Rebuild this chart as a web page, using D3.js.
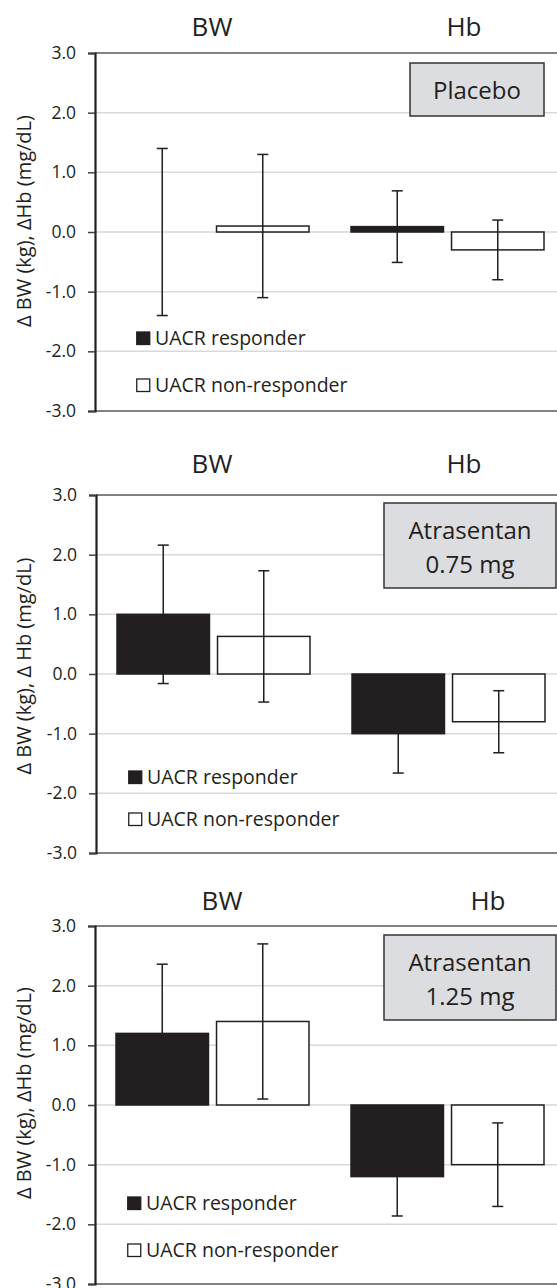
<!DOCTYPE html>
<html>
<head>
<meta charset="utf-8">
<script src="https://cdn.jsdelivr.net/npm/d3@7"></script>
<style>
  body { margin: 0; background: #fff; }
  svg { display: block; font-family: "Open Sans", sans-serif; }
</style>
</head>
<body>
<div id="chart"></div>
<script>
(function(){
  // data
  const categories = ["BW", "Hb"];
  const groups = ["UACR responder", "UACR non-responder"];
  const boxLines = [["Placebo"], ["Atrasentan", "0.75 mg"], ["Atrasentan", "1.25 mg"]];
  const yLabels = ["Δ BW (kg), ΔHb (mg/dL)", "Δ BW (kg), Δ Hb (mg/dL)", "Δ BW (kg), ΔHb (mg/dL)"];
  const yTicks = [-3, -2, -1, 0, 1, 2, 3];

  // [panel][category]  BW, Hb
  const responderMean = [[0.0, 0.09], [1.0, -1.0], [1.2, -1.2]];
  const responderErr = [[1.4, 0.6], [1.16, 0.66], [1.16, 0.66]];
  const nonResponderMean = [[0.1, -0.3], [0.63, -0.8], [1.4, -1.0]];
  const nonResponderErr = [[1.2, 0.5], [1.1, 0.52], [1.3, 0.7]];

  const dark = "#231f20";
  const width = 557, height = 1288;

  // per panel layout
  const layout = [
    { top: 53, axisX: 95, titleY: 36, bwX: 212, hbX: 464, box: [410, 10, 134, 53], legX: 136, leg: [345, 392], labY: 221 },
    { top: 495, axisX: 96, titleY: 473, bwX: 212, hbX: 464, box: [384, 8, 172, 85], legX: 128, leg: [784, 826], labY: 666 },
    { top: 926, axisX: 95, titleY: 910, bwX: 222, hbX: 488, box: [384, 9, 172, 85], legX: 127, leg: [1210, 1257], labY: 1093 }
  ];
  const plotH = 358, plotW = 470;

  const svg = d3.select("#chart").append("svg")
    .attr("width", width)
    .attr("height", height);

  layout.forEach((L, p) => {
    const g = svg.append("g");

    const y = d3.scaleLinear().domain([-3, 3]).range([L.top + plotH, L.top]);
    const x0 = d3.scaleBand().domain(categories).range([L.axisX, L.axisX + plotW]);
    const x1 = d3.scaleBand().domain(groups).range([21, 214]).paddingInner(0.08);

    // grid lines
    g.append("g")
      .selectAll("line")
      .data(yTicks)
      .join("line")
      .attr("x1", L.axisX)
      .attr("x2", width)
      .attr("y1", d => y(d))
      .attr("y2", d => y(d))
      .attr("stroke", d => (d === 3 || d === -3) ? "#595959" : "#d9d9d9")
      .attr("stroke-width", 1.5);

    // axis
    const axis = g.append("g")
      .attr("transform", `translate(${L.axisX},0)`)
      .call(d3.axisLeft(y).tickValues(yTicks).tickSize(7).tickPadding(12).tickFormat(d => d.toFixed(1)));
    axis.select(".domain").attr("stroke", dark).attr("stroke-width", 2.2);
    axis.selectAll(".tick line").attr("stroke", "#404040").attr("stroke-width", 1.5);
    axis.selectAll(".tick text")
      .attr("font-size", "17.5px")
      .attr("font-family", "Open Sans")
      .attr("fill", dark);

    // bars
    const rows = [];
    categories.forEach((c, i) => {
      rows.push({ cat: c, grp: groups[0], v: responderMean[p][i], e: responderErr[p][i] });
      rows.push({ cat: c, grp: groups[1], v: nonResponderMean[p][i], e: nonResponderErr[p][i] });
    });

    g.append("g")
      .selectAll("rect")
      .data(rows)
      .join("rect")
      .attr("x", d => x0(d.cat) + x1(d.grp))
      .attr("y", d => y(Math.max(0, d.v)))
      .attr("width", x1.bandwidth())
      .attr("height", d => Math.abs(y(d.v) - y(0)))
      .attr("fill", d => d.grp === groups[0] ? dark : "#fff")
      .attr("stroke", dark)
      .attr("stroke-width", 1.5);

    // error bars
    const eb = g.append("g")
      .selectAll("g")
      .data(rows)
      .join("g")
      .attr("stroke", dark)
      .attr("stroke-width", 1.5);
    const cx = d => x0(d.cat) + x1(d.grp) + x1.bandwidth() / 2;
    eb.append("line")
      .attr("x1", cx).attr("x2", cx)
      .attr("y1", d => y(d.v + d.e)).attr("y2", d => y(d.v - d.e));
    eb.append("line")
      .attr("x1", d => cx(d) - 5.5).attr("x2", d => cx(d) + 5.5)
      .attr("y1", d => y(d.v + d.e)).attr("y2", d => y(d.v + d.e));
    eb.append("line")
      .attr("x1", d => cx(d) - 5.5).attr("x2", d => cx(d) + 5.5)
      .attr("y1", d => y(d.v - d.e)).attr("y2", d => y(d.v - d.e));

    // category titles
    g.append("g")
      .selectAll("text")
      .data(categories)
      .join("text")
      .attr("x", (d, i) => i === 0 ? L.bwX : L.hbX)
      .attr("y", L.titleY)
      .attr("text-anchor", "middle")
      .attr("font-size", "26px")
      .attr("fill", dark)
      .text(d => d);

    // treatment box
    const [bx, bt, bw, bh] = L.box;
    g.append("rect")
      .attr("x", bx)
      .attr("y", L.top + bt)
      .attr("width", bw)
      .attr("height", bh)
      .attr("fill", "#dcdde0")
      .attr("stroke", "#333")
      .attr("stroke-width", 1.5);
    g.append("g")
      .selectAll("text")
      .data(boxLines[p])
      .join("text")
      .attr("x", bx + bw / 2)
      .attr("y", (d, i) => L.top + bt + 36 + i * 33.5)
      .attr("text-anchor", "middle")
      .attr("font-size", "24px")
      .attr("fill", dark)
      .text(d => d);

    // legend
    const leg = g.append("g")
      .selectAll("g")
      .data(groups)
      .join("g");
    leg.append("rect")
      .attr("x", L.legX + 0.75)
      .attr("y", (d, i) => L.leg[i] - 13)
      .attr("width", 13)
      .attr("height", 12.5)
      .attr("fill", (d, i) => i === 0 ? dark : "#fff")
      .attr("stroke", dark)
      .attr("stroke-width", 1.3);
    leg.append("text")
      .attr("x", L.legX + 19)
      .attr("y", (d, i) => L.leg[i])
      .attr("font-size", "19.5px")
      .attr("fill", dark)
      .text(d => d);

    // y label
    g.append("text")
      .attr("transform", `translate(31,${L.labY}) rotate(-90)`)
      .attr("text-anchor", "middle")
      .attr("font-size", "20px")
      .attr("fill", dark)
      .text(yLabels[p]);
  });
})();
</script>
</body>
</html>
